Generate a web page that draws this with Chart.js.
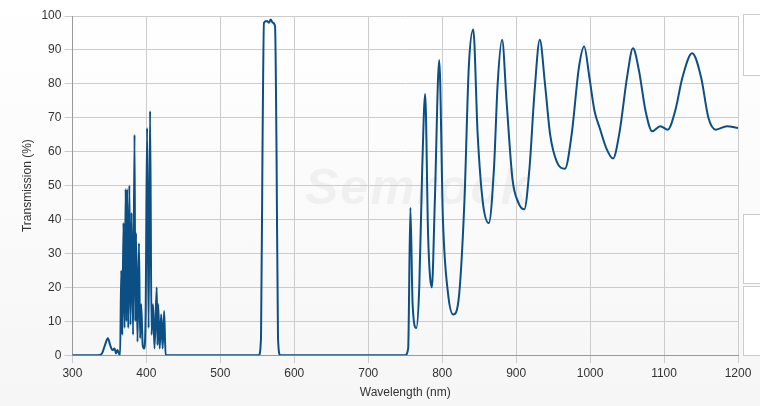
<!DOCTYPE html>
<html>
<head>
<meta charset="utf-8">
<script src="https://cdn.jsdelivr.net/npm/chart.js@4.4.0/dist/chart.umd.min.js"></script>
<style>
  html, body { margin: 0; padding: 0; background: #fff; }
  #wrap { position: relative; width: 760px; height: 406px; background: linear-gradient(#fff, #f6f6f6); }
  canvas { position: absolute; left: 0; top: 0; }
  .wm { position: absolute; left: 305px; top: 158px; font: italic bold 50px "Liberation Sans", sans-serif; color: rgba(0,0,0,0.045); letter-spacing: 2px; }
  .box { position: absolute; left: 743px; width: 30px; border: 1px solid #ccc; background: #fff; }
</style>
</head>
<body>
<div id="wrap">
  <div class="wm">Semrock</div>
  <div class="box" style="top:14px;height:60px"></div>
  <div class="box" style="top:214px;height:68px"></div>
  <div class="box" style="top:286px;height:68px"></div>
  <canvas id="chart" width="760" height="406"></canvas>
</div>
<script>
const wavelengths = [300, 335, 340, 344, 348, 351, 354, 357, 359, 361, 363, 364.5,
  366, 367.5, 369, 370.5, 372, 373, 374, 375.5, 377, 378.5, 380, 382, 384, 385, 386, 388, 390, 391.5, 393, 395, 397, 399, 401, 403, 405, 407, 409, 411, 414, 415, 416, 418, 420, 422, 424, 426,
  552, 555, 557, 559, 563, 566, 568, 571, 574, 576, 578, 581,
  750, 754, 757, 760, 765, 769, 773, 777, 781, 786, 790, 796, 801, 808, 815, 822, 830, 836, 842, 848, 855, 863, 870, 875, 881, 887, 895, 903, 911, 918, 925, 932, 939, 946, 955, 966, 975, 985, 992, 999, 1006, 1013, 1022, 1031, 1040, 1050, 1058, 1066, 1075, 1084, 1095, 1105, 1115, 1125, 1138, 1150, 1160, 1170, 1185, 1200];
const transmission = [0, 0, 0.5, 3, 5, 3, 1.5, 2, 0.5, 1.5, 0.5, 0,
  25, 6, 39, 8, 49, 10, 49, 8, 50, 9, 42, 6, 65, 10, 36, 4, 33, 5, 15, 3, 2, 12, 67, 8, 72, 6, 15, 2, 20, 3, 15, 2, 12, 2, 13, 0,
  0, 5, 60, 98, 98.5, 98, 99, 98, 97, 60, 5, 0,
  0, 2, 43.5, 15, 8, 20, 55, 77, 35, 20, 45, 87, 40, 18, 12, 16, 45, 85, 96, 65, 45, 39, 55, 80, 93, 75, 52, 45, 43, 55, 78, 93, 80, 65, 57, 55, 65, 85, 91, 82, 72, 67, 61, 58, 66, 82, 90.5, 84, 72, 66, 67.5, 66.5, 72, 82, 89, 82, 70, 66.5, 67.5, 67];

const points = wavelengths.map((w, i) => ({ x: w, y: transmission[i] }));

new Chart(document.getElementById('chart'), {
  type: 'line',
  data: {
    datasets: [{
      data: points,
      borderColor: '#0b4f85',
      borderWidth: 2,
      pointRadius: 0,
      cubicInterpolationMode: 'monotone',
      fill: false
    }]
  },
  options: {
    responsive: false,
    animation: false,
    layout: { padding: { top: 16, right: 22, left: 16, bottom: 4 } },
    plugins: { legend: { display: false }, tooltip: { enabled: false } },
    scales: {
      x: {
        type: 'linear', min: 300, max: 1200,
        ticks: { stepSize: 100, color: '#333', font: { family: 'Liberation Sans', size: 12 }, callback: v => String(v) },
        grid: { color: '#ccc' },
        border: { color: '#999' },
        title: { display: true, text: 'Wavelength (nm)', color: '#333', font: { family: 'Liberation Sans', size: 12 }, padding: 2 }
      },
      y: {
        min: 0, max: 100,
        ticks: { stepSize: 10, color: '#333', font: { family: 'Liberation Sans', size: 12 } },
        grid: { color: '#ccc' },
        border: { color: '#999' },
        title: { display: true, text: 'Transmission (%)', color: '#333', font: { family: 'Liberation Sans', size: 12 } }
      }
    }
  }
});
</script>
</body>
</html>
